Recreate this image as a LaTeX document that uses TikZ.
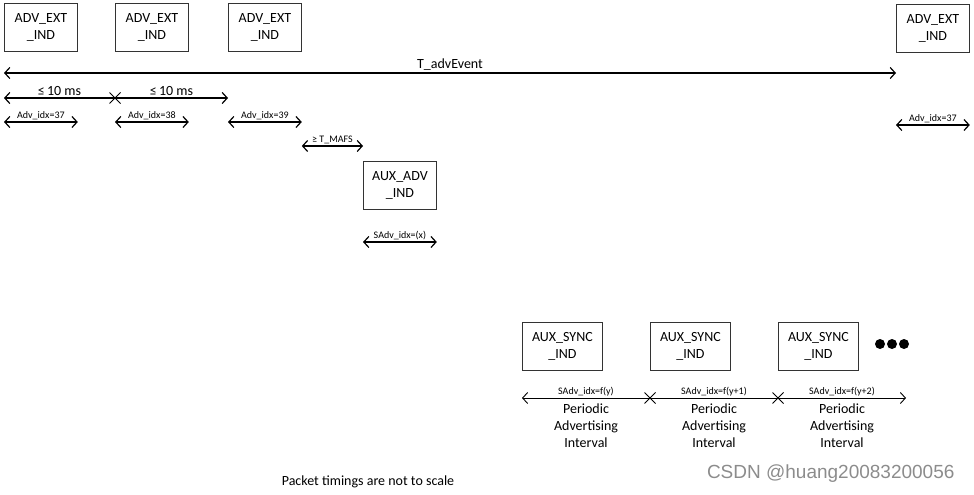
\documentclass[tikz,border=0pt]{standalone}
\usepackage{fontspec}
\setmainfont{Carlito}
\newfontfamily\markfont{Liberation Sans}
\usetikzlibrary{positioning, arrows.meta, shapes.misc}

\tikzset{
  pkt/.style={draw=black!80, line width=0.8pt, minimum width=73pt, minimum height=48pt,
    inner sep=0pt, align=center, anchor=north west, font=\fontsize{14}{17}\selectfont},
  barb/.tip={Straight Barb[length=5pt,width=11pt]},
  span/.style={barb-barb, line width=1.2pt},
  lspan/.style={barb-, line width=1.2pt},
  rspan/.style={-barb, line width=1.2pt},
  idx/.style={font=\fontsize{10}{11}\selectfont, above, inner sep=1.5pt},
  big/.style={font=\fontsize{14}{16}\selectfont, above, inner sep=2pt},
  crossmark/.style={cross out, draw, minimum size=10pt, inner sep=0pt, line width=1pt},
  per/.style={font=\fontsize{14}{17}\selectfont, align=center, below, inner sep=5pt}
}

\begin{document}
\begin{tikzpicture}[x=1pt, y=-1pt]
\useasboundingbox (0,0) rectangle (974,495);

% advertising packets
\node[pkt] (ext1) at (4,3) {ADV\_EXT\\\_IND};
\node[pkt] (ext2) at (115,3) {ADV\_EXT\\\_IND};
\node[pkt] (ext3) at (228,3) {ADV\_EXT\\\_IND};
\node[pkt] (ext4) at (896,4) {ADV\_EXT\\\_IND};
\node[pkt] (auxadv) at (363,161) {AUX\_ADV\\\_IND};

% event interval
\draw[span] (ext1.west |- 0,73) -- node[big] {T\_advEvent} (ext4.west |- 0,73);

% channel spacing
\node[crossmark] (x1) at (ext2.west |- 0,98) {};
\draw[lspan] (ext1.west |- 0,98) -- node[big] {≤\,10 ms} (x1.center);
\draw[rspan] (x1.center) -- node[big] {≤\,10 ms} (ext3.west |- 0,98);

% packet indices
\draw[span] (ext1.west |- 0,122) -- node[idx] {Adv\_idx=37} (ext1.east |- 0,122);
\draw[span] (ext2.west |- 0,122) -- node[idx] {Adv\_idx=38} (ext2.east |- 0,122);
\draw[span] (ext3.west |- 0,122) -- node[idx] {Adv\_idx=39} (ext3.east |- 0,122);
\draw[span] (ext4.west |- 0,125) -- node[idx] {Adv\_idx=37} (ext4.east |- 0,125);
\draw[span] (ext3.east |- 0,146) -- node[idx] {≥ T\_MAFS} (auxadv.west |- 0,146);
\draw[span] (auxadv.west |- 0,242) -- node[idx] {SAdv\_idx=(x)} (auxadv.east |- 0,242);

% periodic packets
\node[pkt, minimum width=80pt] (sync1) at (522,322) {AUX\_SYNC\\\_IND};
\node[pkt, minimum width=80pt] (sync2) at (650,322) {AUX\_SYNC\\\_IND};
\node[pkt, minimum width=80pt] (sync3) at (778,322) {AUX\_SYNC\\\_IND};
\foreach \i in {880,892,904} \fill (\i,344) circle (5pt);

\coordinate (p0) at (sync1.west |- 0,398);
\node[crossmark] (x2) at (sync2.west |- 0,398) {};
\node[crossmark] (x3) at (sync3.west |- 0,398) {};
\coordinate (p3) at (906,398);
\draw[lspan, line width=0.9pt] (p0) -- node[idx] {SAdv\_idx=f(y)} node[per] {Periodic\\Advertising\\Interval} (x2.center);
\draw[line width=0.9pt] (x2.center) -- node[idx] {SAdv\_idx=f(y+1)} node[per] {Periodic\\Advertising\\Interval} (x3.center);
\draw[rspan, line width=0.9pt] (x3.center) -- node[idx] {SAdv\_idx=f(y+2)} node[per] {Periodic\\Advertising\\Interval} (p3);

\node[font=\fontsize{14}{16}\selectfont] (note) at (368,482) {Packet timings are not to scale};
\node[font=\markfont\fontsize{19}{21}\selectfont, text=black!45, anchor=east] (wm) at (958,474) {CSDN @huang20083200056};

\end{tikzpicture}
\end{document}
